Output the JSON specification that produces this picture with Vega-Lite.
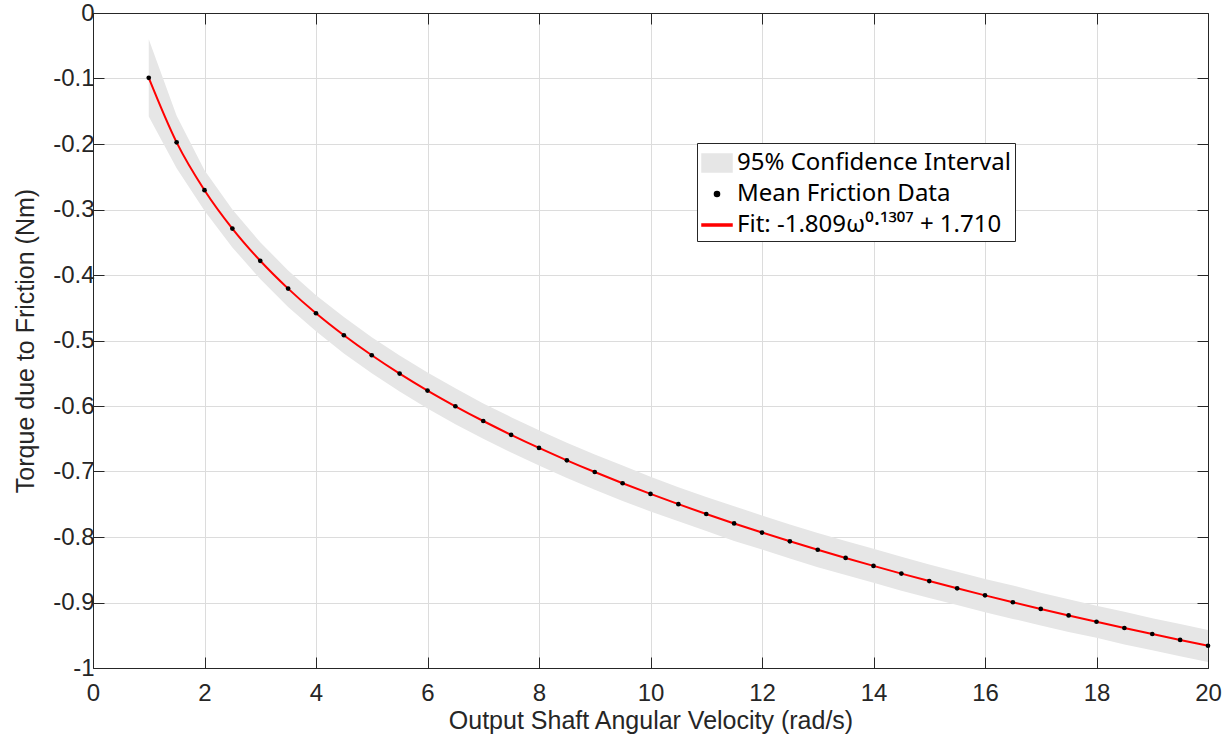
{
  "$schema": "https://vega.github.io/schema/vega-lite/v6.json",
  "width": 1115,
  "height": 655,
  "autosize": "none",
  "padding": {"left": 93, "top": 13, "right": 18, "bottom": 68},
  "background": "white",
  "config": {
    "font": "Liberation Sans",
    "view": {"stroke": null},
    "axis": {
      "domainColor": "#262626",
      "domainWidth": 1,
      "tickColor": "#262626",
      "labelColor": "#262626",
      "titleColor": "#262626",
      "labelFont": "Liberation Sans",
      "titleFont": "Liberation Sans",
      "labelFontSize": 24,
      "titleFontSize": 25,
      "titleFontWeight": "normal",
      "labelFlush": false,
      "labelOverlap": false,
      "gridColor": "#dcdcdc",
      "gridWidth": 1
    },
    "legend": {
      "orient": "none",
      "legendX": 604,
      "legendY": 130,
      "fillColor": "white",
      "strokeColor": "#262626",
      "padding": 4,
      "labelFont": "Noto Sans",
      "labelFontSize": 24,
      "labelColor": "#000000",
      "labelLimit": 0,
      "labelOffset": 4,
      "rowPadding": 3,
      "symbolSize": 900,
      "symbolOpacity": 1
    }
  },
  "datasets": {
    "friction": [
      {"x": 1, "y": -0.099, "lo": -0.158, "hi": -0.040},
      {"x": 1.5, "y": -0.1975, "lo": -0.237, "hi": -0.157},
      {"x": 2, "y": -0.2705, "lo": -0.302, "hi": -0.240},
      {"x": 2.5, "y": -0.3291, "lo": -0.358, "hi": -0.300},
      {"x": 3, "y": -0.3783, "lo": -0.406, "hi": -0.350},
      {"x": 3.5, "y": -0.4208, "lo": -0.449, "hi": -0.393},
      {"x": 4, "y": -0.4584, "lo": -0.486, "hi": -0.431},
      {"x": 4.5, "y": -0.4920, "lo": -0.520, "hi": -0.464},
      {"x": 5, "y": -0.5225, "lo": -0.550, "hi": -0.495},
      {"x": 5.5, "y": -0.5505, "lo": -0.578, "hi": -0.523},
      {"x": 6, "y": -0.5764, "lo": -0.604, "hi": -0.549},
      {"x": 6.5, "y": -0.6004, "lo": -0.628, "hi": -0.573},
      {"x": 7, "y": -0.6229, "lo": -0.650, "hi": -0.596},
      {"x": 7.5, "y": -0.6440, "lo": -0.671, "hi": -0.617},
      {"x": 8, "y": -0.6640, "lo": -0.691, "hi": -0.637},
      {"x": 8.5, "y": -0.6829, "lo": -0.710, "hi": -0.656},
      {"x": 9, "y": -0.7008, "lo": -0.728, "hi": -0.674},
      {"x": 9.5, "y": -0.7179, "lo": -0.745, "hi": -0.691},
      {"x": 10, "y": -0.7342, "lo": -0.761, "hi": -0.708},
      {"x": 10.5, "y": -0.7499, "lo": -0.776, "hi": -0.724},
      {"x": 11, "y": -0.7649, "lo": -0.791, "hi": -0.739},
      {"x": 11.5, "y": -0.7793, "lo": -0.806, "hi": -0.753},
      {"x": 12, "y": -0.7932, "lo": -0.819, "hi": -0.767},
      {"x": 12.5, "y": -0.8066, "lo": -0.833, "hi": -0.781},
      {"x": 13, "y": -0.8195, "lo": -0.846, "hi": -0.794},
      {"x": 13.5, "y": -0.8320, "lo": -0.858, "hi": -0.806},
      {"x": 14, "y": -0.8441, "lo": -0.870, "hi": -0.818},
      {"x": 14.5, "y": -0.8559, "lo": -0.882, "hi": -0.830},
      {"x": 15, "y": -0.8673, "lo": -0.893, "hi": -0.842},
      {"x": 15.5, "y": -0.8783, "lo": -0.904, "hi": -0.853},
      {"x": 16, "y": -0.8891, "lo": -0.915, "hi": -0.864},
      {"x": 16.5, "y": -0.8996, "lo": -0.925, "hi": -0.874},
      {"x": 17, "y": -0.9098, "lo": -0.935, "hi": -0.885},
      {"x": 17.5, "y": -0.9197, "lo": -0.945, "hi": -0.895},
      {"x": 18, "y": -0.9294, "lo": -0.954, "hi": -0.905},
      {"x": 18.5, "y": -0.9389, "lo": -0.964, "hi": -0.914},
      {"x": 19, "y": -0.9481, "lo": -0.973, "hi": -0.924},
      {"x": 19.5, "y": -0.9572, "lo": -0.982, "hi": -0.933},
      {"x": 20, "y": -0.9660, "lo": -0.991, "hi": -0.942}
    ],
    "legendonly": []
  },
  "data": {"name": "friction"},
  "resolve": {"axis": {"x": "independent", "y": "independent"}},
  "layer": [
    {
      "mark": {"type": "area", "opacity": 1},
      "encoding": {
        "x": {
          "field": "x", "type": "quantitative",
          "scale": {"domain": [0, 20], "nice": false, "zero": false},
          "axis": {
            "orient": "bottom",
            "values": [0, 2, 4, 6, 8, 10, 12, 14, 16, 18, 20],
            "grid": true,
            "tickSize": -11,
            "labelPadding": 24,
            "title": "Output Shaft Angular Velocity (rad/s)",
            "titlePadding": 3
          }
        },
        "y": {
          "field": "lo", "type": "quantitative",
          "scale": {"domain": [-1, 0], "nice": false, "zero": false},
          "axis": {
            "orient": "left",
            "values": [-1, -0.9, -0.8, -0.7, -0.6, -0.5, -0.4, -0.3, -0.2, -0.1, 0],
            "labelExpr": "datum.value == 0 ? '0' : (datum.value == -1 ? '-1' : '-' + format(-datum.value, '.1f'))",
            "grid": true,
            "tickSize": -11,
            "labelPadding": 10,
            "title": "Torque due to Friction (Nm)",
            "titlePadding": 14
          }
        },
        "y2": {"field": "hi"},
        "color": {
          "datum": "95% Confidence Interval",
          "scale": {
            "domain": ["95% Confidence Interval", "Mean Friction Data", "Fit: -1.809ω⁰·¹³⁰⁷ + 1.710"],
            "range": ["#e6e6e6", "#000000", "#ff0000"]
          },
          "legend": {"title": null}
        }
      }
    },
    {
      "mark": {"type": "line", "strokeWidth": 2, "interpolate": "monotone"},
      "encoding": {
        "x": {"field": "x", "type": "quantitative", "axis": null},
        "y": {"field": "y", "type": "quantitative", "axis": null},
        "color": {"datum": "Fit: -1.809ω⁰·¹³⁰⁷ + 1.710"}
      }
    },
    {
      "mark": {"type": "point", "filled": true, "size": 22, "opacity": 1},
      "encoding": {
        "x": {
          "field": "x", "type": "quantitative",
          "axis": {"orient": "top", "values": [0, 2, 4, 6, 8, 10, 12, 14, 16, 18, 20], "labels": false, "grid": false, "tickSize": -11, "title": null}
        },
        "y": {
          "field": "y", "type": "quantitative",
          "axis": {"orient": "right", "values": [-1, -0.9, -0.8, -0.7, -0.6, -0.5, -0.4, -0.3, -0.2, -0.1, 0], "labels": false, "grid": false, "tickSize": -11, "title": null}
        },
        "color": {"datum": "Mean Friction Data"}
      }
    },
    {
      "data": {"name": "legendonly"},
      "mark": {"type": "point", "filled": true, "opacity": 1},
      "encoding": {
        "shape": {
          "datum": "Mean Friction Data",
          "scale": {
            "domain": ["95% Confidence Interval", "Mean Friction Data", "Fit: -1.809ω⁰·¹³⁰⁷ + 1.710"],
            "range": ["M-1,-0.6H1V0.6H-1Z", "M-0.17,0A0.17,0.17,0,1,0,0.17,0A0.17,0.17,0,1,0,-0.17,0Z", "M-1,-0.07H1V0.07H-1Z"]
          },
          "legend": {"title": null}
        },
        "color": {"datum": "Mean Friction Data"}
      }
    }
  ]
}
